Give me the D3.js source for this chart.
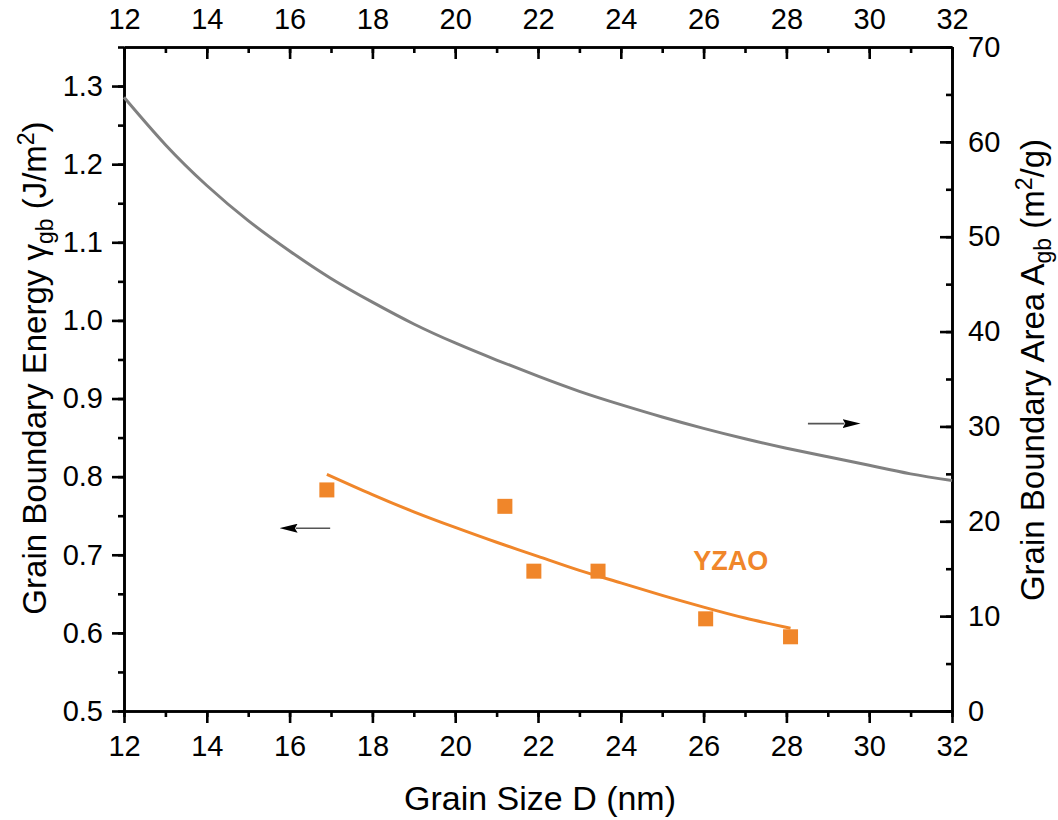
<!DOCTYPE html>
<html>
<head>
<meta charset="utf-8">
<script src="https://cdn.jsdelivr.net/npm/d3@7"></script>
<style>
  body { margin: 0; background: #fff; }
  svg { font-family: "Liberation Sans", Arial, sans-serif; }
</style>
</head>
<body>
<svg id="chart" width="1058" height="820"></svg>
<script>
// grain size ticks
var xTicks = [12, 14, 16, 18, 20, 22, 24, 26, 28, 30, 32];
var yLeftTicks = [0.5, 0.6, 0.7, 0.8, 0.9, 1.0, 1.1, 1.2, 1.3];
var yRightTicks = [0, 10, 20, 30, 40, 50, 60, 70];

// YZAO measured points
var yzaoD = [16.9, 21.2, 21.9, 23.45, 26.05, 28.1];
var yzaoGamma = [0.783, 0.762, 0.679, 0.679, 0.618, 0.595];

// YZAO fit line
var fitD = [16.9, 18, 19, 20, 21, 22, 23, 24, 25, 26, 27, 28.1];
var fitGamma = [0.803, 0.777, 0.755, 0.735, 0.716, 0.698, 0.680, 0.664, 0.648, 0.633, 0.619, 0.606];

// grain boundary area curve (right axis)
var areaD = [12, 13, 14, 15, 16, 17, 18, 19, 20, 21, 22, 23, 24, 25, 26, 27, 28, 29, 30, 31, 32];
var areaA = [64.7, 59.7, 55.4, 51.7, 48.5, 45.6, 43.1, 40.8, 38.8, 37.0, 35.3, 33.7, 32.3, 31.0, 29.8, 28.7, 27.7, 26.8, 25.9, 25.0, 24.3];

var orange = "#f0862a";
var grey = "#808080";

var pLeft = 124, pRight = 952, pTop = 47, pBottom = 711;

var svg = d3.select("#chart");

var x = d3.scaleLinear().domain([12, 32]).range([pLeft, pRight]);
var yL = d3.scaleLinear().domain([0.5, 1.35]).range([pBottom, pTop]);
var yR = d3.scaleLinear().domain([0, 70]).range([pBottom, pTop]);

var minorX = d3.range(12, 32.01, 1);
var minorL = d3.range(0.5, 1.351, 0.05);
var minorR = d3.range(0, 70.1, 5);

function styleAxis(g){
  g.selectAll("path").attr("stroke", "#000").attr("stroke-width", 2.6);
  g.selectAll("line").attr("stroke", "#000").attr("stroke-width", 2.6);
  g.selectAll("text").attr("font-size", 29).attr("fill", "#000")
    .attr("font-family", "'Liberation Sans', Arial, sans-serif");
}

// minor ticks
svg.append("g").attr("transform", "translate(0," + pBottom + ")")
  .call(d3.axisBottom(x).tickValues(minorX).tickSize(6).tickFormat("").tickSizeOuter(0))
  .call(styleAxis);
svg.append("g").attr("transform", "translate(0," + pTop + ")")
  .call(d3.axisTop(x).tickValues(minorX).tickSize(-6).tickFormat("").tickSizeOuter(0))
  .call(styleAxis);
svg.append("g").attr("transform", "translate(" + pLeft + ",0)")
  .call(d3.axisLeft(yL).tickValues(minorL).tickSize(6).tickFormat("").tickSizeOuter(0))
  .call(styleAxis);
svg.append("g").attr("transform", "translate(" + pRight + ",0)")
  .call(d3.axisRight(yR).tickValues(minorR).tickSize(-6).tickFormat("").tickSizeOuter(0))
  .call(styleAxis);

// major ticks
svg.append("g").attr("transform", "translate(0," + pBottom + ")")
  .call(d3.axisBottom(x).tickValues(xTicks).tickSize(12).tickPadding(12).tickFormat(d3.format("d")).tickSizeOuter(0))
  .call(styleAxis);
svg.append("g").attr("transform", "translate(0," + pTop + ")")
  .call(d3.axisTop(x).tickValues(xTicks).tickSize(-12).tickPadding(18).tickFormat(d3.format("d")).tickSizeOuter(0))
  .call(styleAxis);
svg.append("g").attr("transform", "translate(" + pLeft + ",0)")
  .call(d3.axisLeft(yL).tickValues(yLeftTicks).tickSize(12).tickPadding(9).tickFormat(d3.format(".1f")).tickSizeOuter(0))
  .call(styleAxis);
svg.append("g").attr("transform", "translate(" + pRight + ",0)")
  .call(d3.axisRight(yR).tickValues(yRightTicks).tickSize(-12).tickPadding(16).tickFormat(d3.format("d")).tickSizeOuter(0))
  .call(styleAxis);

// grey area curve
var areaLine = d3.line()
  .x(function(d, i){ return x(areaD[i]); })
  .y(function(d){ return yR(d); })
  .curve(d3.curveNatural);
svg.append("path")
  .attr("d", areaLine(areaA))
  .attr("fill", "none")
  .attr("stroke", grey)
  .attr("stroke-width", 3);

// orange fit
var fitLine = d3.line()
  .x(function(d, i){ return x(fitD[i]); })
  .y(function(d){ return yL(d); })
  .curve(d3.curveNatural);
svg.append("path")
  .attr("d", fitLine(fitGamma))
  .attr("fill", "none")
  .attr("stroke", orange)
  .attr("stroke-width", 3);

// squares
var sq = 15;
svg.selectAll(".pt").data(yzaoGamma).enter().append("rect")
  .attr("class", "pt")
  .attr("x", function(d, i){ return x(yzaoD[i]) - sq / 2; })
  .attr("y", function(d){ return yL(d) - sq / 2; })
  .attr("width", sq).attr("height", sq)
  .attr("fill", orange);

// arrows
var defs = svg.append("defs");
defs.append("marker")
  .attr("id", "head")
  .attr("viewBox", "0 0 20 10")
  .attr("refX", 2).attr("refY", 5)
  .attr("markerWidth", 18).attr("markerHeight", 9)
  .attr("markerUnits", "userSpaceOnUse")
  .attr("orient", "auto")
  .append("path").attr("d", "M0,0 L20,5 L0,10 L3,5 Z").attr("fill", "#000");

svg.append("line")
  .attr("x1", x(16.98)).attr("y1", yL(0.734))
  .attr("x2", x(16.15)).attr("y2", yL(0.734))
  .attr("stroke", "#555").attr("stroke-width", 1.6)
  .attr("marker-end", "url(#head)");
svg.append("line")
  .attr("x1", x(28.52)).attr("y1", yR(30.3))
  .attr("x2", x(29.4)).attr("y2", yR(30.3))
  .attr("stroke", "#555").attr("stroke-width", 1.6)
  .attr("marker-end", "url(#head)");

// series label
svg.append("text")
  .attr("x", x(25.75)).attr("y", yL(0.68))
  .attr("font-size", 27).attr("font-weight", "bold")
  .attr("fill", orange)
  .text("YZAO");

// axis titles
svg.append("text")
  .attr("x", (pLeft + pRight) / 2 + 2).attr("y", 810)
  .attr("text-anchor", "middle")
  .attr("font-size", 34)
  .text("Grain Size D (nm)");

var lt = svg.append("text")
  .attr("transform", "translate(46," + 368 + ") rotate(-90)")
  .attr("text-anchor", "middle")
  .attr("font-size", 33);
lt.append("tspan").text("Grain Boundary Energy \u03b3");
lt.append("tspan").attr("font-size", 23).attr("dy", 7).text("gb");
lt.append("tspan").attr("dy", -7).text(" (J/m");
lt.append("tspan").attr("font-size", 23).attr("dy", -12).text("2");
lt.append("tspan").attr("dy", 12).text(")");

var rt = svg.append("text")
  .attr("transform", "translate(1044," + 370 + ") rotate(-90)")
  .attr("text-anchor", "middle")
  .attr("font-size", 33);
rt.append("tspan").text("Grain Boundary Area A");
rt.append("tspan").attr("font-size", 23).attr("dy", 7).text("gb");
rt.append("tspan").attr("dy", -7).text(" (m");
rt.append("tspan").attr("font-size", 23).attr("dy", -12).text("2");
rt.append("tspan").attr("dy", 12).text("/g)");
</script>
</body>
</html>
